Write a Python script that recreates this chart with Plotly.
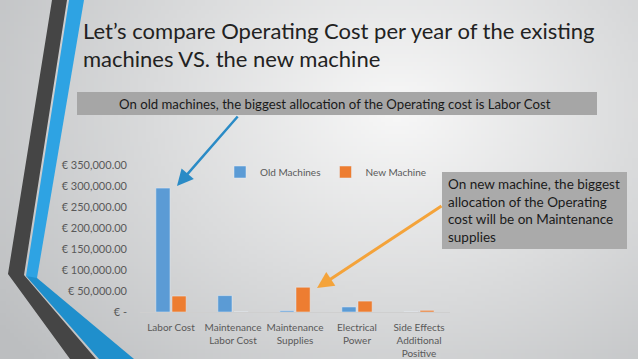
import base64, struct, zlib
import numpy as np
import plotly.graph_objects as go

# ---------------- data ----------------
categories = ["Labor Cost", "Maintenance<br>Labor Cost", "Maintenance<br>Supplies",
              "Electrical<br>Power", "Side Effects<br>Additional<br>Positive"]
old_machines = [295000, 39000, 3000, 12000, 0]
new_machine = [38000, 0, 59000, 26000, 4000]
tick_vals = [0, 50000, 100000, 150000, 200000, 250000, 300000, 350000]
tick_text = ["€ -", "€ 50,000.00", "€ 100,000.00", "€ 150,000.00", "€ 200,000.00",
             "€ 250,000.00", "€ 300,000.00", "€ 350,000.00"]
title_lines = ["Let’s compare Operating Cost per year of the existing",
               "machines VS. the new machine"]
banner_text = "On old machines, the biggest allocation of the Operating cost is Labor Cost"
box_text = ("On new machine, the biggest<br>allocation of the Operating<br>"
            "cost will be on Maintenance<br>supplies")

# ---------------- layout geometry (pixels) ----------------
W, H = 638, 359
L, R, T, B = 140, 450, 165, 312


def PX(x):
    return (x - L) / (R - L)


def PY(y):
    return (B - y) / (B - T)


# background gradient image
def make_png(arr):
    h, w, _ = arr.shape
    raw = b"".join(b"\x00" + arr[i].tobytes() for i in range(h))

    def chunk(t, d):
        c = struct.pack(">I", len(d)) + t + d
        return c + struct.pack(">I", zlib.crc32(t + d) & 0xffffffff)
    return (b"\x89PNG\r\n\x1a\n" + chunk(b"IHDR", struct.pack(">IIBBBBB", w, h, 8, 2, 0, 0, 0))
            + chunk(b"IDAT", zlib.compress(raw)) + chunk(b"IEND", b""))


gw, gh = 160, 90
yy, xx = np.mgrid[0:gh, 0:gw]
d = np.sqrt(((xx / gw - 0.62) / 0.62) ** 2 + ((yy / gh - 0.30) / 0.85) ** 2)
d = np.clip(d, 0, 1.25) / 1.25
c0, c1 = np.array([248, 248, 248]), np.array([188, 190, 192])
img = (c0[None, None, :] * (1 - d[..., None]) + c1[None, None, :] * d[..., None]).astype(np.uint8)
bg_uri = "data:image/png;base64," + base64.b64encode(make_png(img)).decode()

fig = go.Figure()
fig.add_trace(go.Bar(x=categories, y=old_machines, name="Old Machines", marker_color="#5b9bd5"))
fig.add_trace(go.Bar(x=categories, y=new_machine, name="New Machine", marker_color="#ed7d31"))

font_family = "Lato"


def poly(pts):
    return "M " + " L ".join(f"{PX(x):.5f},{PY(y):.5f}" for x, y in pts) + " Z"


shapes = [
    # dark stripe
    dict(type="path", xref="paper", yref="paper", layer="below", line_width=0,
         fillcolor="#454545",
         path=poly([(52, 0), (67, 0), (24, 275), (96, 359), (70, 359), (8, 274)])),
    # blue stripe
    dict(type="path", xref="paper", yref="paper", layer="below", line_width=0,
         fillcolor="#2ea3e3",
         path=poly([(69, 0), (84, 0), (37, 278), (34, 279), (26, 276)])),
    dict(type="path", xref="paper", yref="paper", layer="below", line_width=0,
         fillcolor="#1f8fcc",
         path=poly([(26, 276), (37, 278), (134, 359), (99, 359)])),
    # banner
    dict(type="rect", xref="paper", yref="paper", layer="below", line_width=0,
         fillcolor="#a6a6a6", x0=PX(77), x1=PX(597), y0=PY(92), y1=PY(115)),
    # right box
    dict(type="rect", xref="paper", yref="paper", layer="below", line_width=0,
         fillcolor="#aaaaaa", x0=PX(442), x1=PX(627), y0=PY(172), y1=PY(249)),
]

annotations = [
    dict(text=title_lines[0], x=PX(81), y=PY(30), xref="paper", yref="paper",
         xanchor="left", yanchor="middle", showarrow=False,
         font=dict(family=font_family, size=22, color="#222222")),
    dict(text=title_lines[1], x=PX(81), y=PY(58), xref="paper", yref="paper",
         xanchor="left", yanchor="middle", showarrow=False,
         font=dict(family=font_family, size=22, color="#222222")),
    dict(text=banner_text, x=PX(335), y=PY(103.5), xref="paper", yref="paper",
         xanchor="center", yanchor="middle", showarrow=False,
         font=dict(family=font_family, size=13.2, color="#1a1a1a")),
    dict(text=box_text, x=PX(446), y=PY(174), xref="paper", yref="paper",
         xanchor="left", yanchor="top", align="left", showarrow=False,
         font=dict(family=font_family, size=13.5, color="#1a1a1a")),
    # arrows
    dict(text="", x=PX(177), y=PY(186), xref="paper", yref="paper",
         ax=239 - 177, ay=115 - 186, axref="pixel", ayref="pixel",
         showarrow=True, arrowhead=2, arrowsize=1.3, arrowwidth=2.5,
         arrowcolor="#2a8bc6", standoff=0),
    dict(text="", x=PX(317), y=PY(288), xref="paper", yref="paper",
         ax=443 - 317, ay=205 - 288, axref="pixel", ayref="pixel",
         showarrow=True, arrowhead=2, arrowsize=1.1, arrowwidth=3,
         arrowcolor="#f4a33a", standoff=0),
]

fig.update_layout(
    width=W, height=H,
    margin=dict(l=L, r=W - R, t=T, b=H - B, pad=0, autoexpand=False),
    paper_bgcolor="#e4e5e6", plot_bgcolor="rgba(0,0,0,0)",
    barmode="group", bargap=0.48, bargroupgap=0.12,
    font=dict(family=font_family, size=10, color="#595959"),
    showlegend=True,
    legend=dict(orientation="h", x=PX(220), y=PY(172), xanchor="left", yanchor="middle",
                bgcolor="rgba(0,0,0,0)", font=dict(size=10, color="#595959")),
    shapes=shapes, annotations=annotations,
    images=[dict(source=bg_uri, xref="paper", yref="paper", x=PX(0), y=PY(0),
                 sizex=W / (R - L), sizey=H / (B - T), xanchor="left", yanchor="top",
                 sizing="stretch", layer="below")],
)
fig.update_xaxes(showline=True, linecolor="#cfcfcf", linewidth=1, showgrid=False,
                 automargin=False,
                 ticks="", tickfont=dict(size=10, color="#595959"), ticklabelstandoff=6)
fig.update_yaxes(range=[0, 350000], tickvals=tick_vals, ticktext=tick_text, showgrid=False,
                 automargin=False,
                 zeroline=False, showline=False, ticks="", ticklabelstandoff=12,
                 tickfont=dict(size=11, color="#595959"))

fig.write_html("out.html", config={"displayModeBar": False},
               post_script="document.body.style.margin='0';document.body.style.overflow='hidden';")
